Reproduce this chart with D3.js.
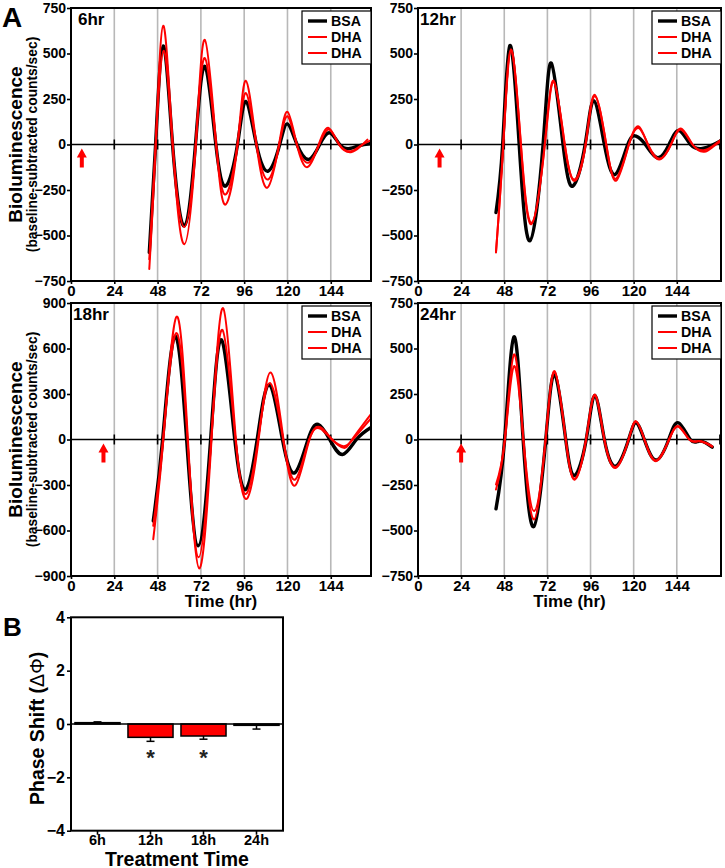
<!DOCTYPE html>
<html><head><meta charset="utf-8">
<script src="https://cdn.jsdelivr.net/npm/d3@7"></script>
<style>
body{margin:0;background:#fff}
svg{display:block}
text{font-family:"Liberation Sans",Arial,Helvetica,sans-serif;font-weight:bold;fill:#000}
</style>
</head><body><svg id="chart" width="725" height="868"></svg>
<script>
// ---------------- data ----------------
const panelTitles = ["6hr", "12hr", "18hr", "24hr"];
const treatmentTimes = [6, 12, 18, 24];
const timeTicks = [0, 24, 48, 72, 96, 120, 144];
const gridTimes = [24, 48, 72, 96, 120, 144];
const yTicks750 = [-750, -500, -250, 0, 250, 500, 750];
const yTicks900 = [-900, -600, -300, 0, 300, 600, 900];
const legendLabels = ["BSA", "DHA", "DHA"];

// [time (hr), bioluminescence]
const bsa6 = [[43.4,-593],[46.9,0],[51.1,542],[56.3,0],[62.8,-447],[69,0],[74.2,429],[80.3,0],[85.8,-228],[92.3,0],[96.9,237],[102.8,0],[109.3,-146],[115.7,0],[120,113],[125.3,0],[131.8,-82],[137.9,0],[143.4,64],[149,0],[154.5,-22],[160,-6],[165.6,4]];
const dha6a = [[43.4,-684],[47.0,0],[51.1,653],[56.4,0],[62.8,-548],[69.2,0],[74.2,575],[80.5,0],[85.8,-329],[92.3,0],[96.9,350],[102.8,0],[108.9,-237],[115.3,0],[120,179],[125.2,0],[131.1,-124],[137.3,0],[142.8,91],[148.5,0],[155.2,-42],[160.5,-10],[164.3,27]];
const dha6b = [[43.4,-630],[46.9,0],[51.4,515],[56.3,0],[62.8,-453],[69.1,0],[74.2,475],[80.4,0],[85.8,-274],[92.3,0],[96.9,283],[102.8,0],[109.3,-192],[115.5,0],[120,155],[125.2,0],[131.5,-100],[137.6,0],[143,82],[148.8,0],[155,-37],[160.3,-8],[165.5,20]];

const bsa12 = [[43.4,-374],[47.1,0],[51.1,544],[56.3,0],[62.2,-529],[69.6,0],[74.2,447],[80.7,0],[86.2,-228],[93.0,0],[97.8,241],[103.7,0],[109.8,-164],[116.7,0],[121.3,46],[126.5,0],[133.3,-73],[139.7,0],[145.3,77],[151.7,0],[158.2,-22],[163.5,-5],[168,18]];
const dha12a = [[43.4,-593],[47.4,0],[51.7,524],[57.2,0],[63.1,-438],[70.5,0],[75.5,350],[81.6,0],[87.1,-192],[93.2,0],[98.2,274],[104.7,0],[110.2,-188],[117.3,0],[122.8,100],[127.9,0],[134.2,-82],[140.7,0],[146.2,82],[152.7,0],[159.1,-31],[164,-8],[168,22]];
const dha12b = [[43.4,-590],[47.5,0],[51.8,518],[57.3,0],[63.2,-430],[70.6,0],[75.6,345],[81.7,0],[87.2,-200],[93.3,0],[98.3,265],[104.8,0],[110.3,-198],[117.4,0],[122.9,90],[128,0],[134.3,-78],[140.8,0],[146.3,88],[152.8,0],[159.3,-40],[164.2,-12],[168,14]];

const bsa18 = [[45.6,-537],[50.8,0],[57.6,679],[64.1,0],[70.5,-701],[77.4,0],[83.4,657],[90.8,0],[96.9,-329],[103.2,0],[109.8,361],[117.2,0],[124.1,-219],[131.4,0],[137,99],[143.4,0],[150.5,-99],[158.2,0],[166.5,81]];
const dha18a = [[45.6,-657],[51.2,0],[58.5,810],[64.8,0],[71.1,-850],[77.9,0],[84.4,865],[91.4,0],[97.7,-388],[104,0],[110.6,442],[117.8,0],[124.4,-302],[132.2,0],[138.8,77],[144.8,0],[151.2,-55],[155.8,0],[166.5,171]];
const dha18b = [[45.6,-569],[51,0],[58.2,700],[64.6,0],[70.7,-777],[77.7,0],[84,722],[91.2,0],[97.3,-357],[103.7,0],[110.2,372],[117.6,0],[124.4,-263],[132,0],[138.4,70],[144.6,0],[151,-44],[156.2,0],[166.5,142]];

const bsa24 = [[43.4,-381],[48.2,0],[53.4,564],[58.5,0],[64.4,-479],[71.1,0],[76.1,357],[82.2,0],[87.1,-198],[93.6,0],[98.4,242],[103.7,0],[110.2,-146],[117.2,0],[121.3,92],[125.9,0],[132.4,-113],[139.5,0],[144.9,92],[151.5,0],[156,-10],[160,-18],[163.7,-42]];
const dha24a = [[43.4,-275],[48.3,0],[53.4,467],[58.6,0],[64.6,-439],[71,0],[76.1,375],[82.2,0],[87.3,-220],[93.5,0],[98.4,247],[103.7,0],[110.2,-156],[117.2,0],[121.3,101],[126,0],[132.4,-119],[139.7,0],[145,73],[151,0],[156,-10],[160,-20],[163.7,-40]];
const dha24b = [[43.4,-247],[48.4,0],[53.4,403],[58.7,0],[64.6,-393],[71,0],[76.1,370],[82.2,0],[87.3,-215],[93.5,0],[98.4,244],[103.7,0],[110.2,-150],[117.2,0],[121.3,98],[126,0],[132.4,-115],[139.7,0],[145,70],[151,0],[156,-8],[160,-18],[163.7,-36]];

// Panel B
const phaseCategories = ["6h", "12h", "18h", "24h"];
const phaseShift = [0.05, -0.5, -0.45, -0.05];
const phaseErr = [0.03, 0.15, 0.12, 0.14];
const phaseSig = [false, true, true, false];
const phaseTicks = [-4, -2, 0, 2, 4];

// ---------------- drawing ----------------
const RED = "#ff0000";
const svg = d3.select("#chart");
svg.append("rect").attr("width", 725).attr("height", 868).attr("fill", "#fff");

const panels = [
  {title: panelTitles[0], treat: treatmentTimes[0], left: 71, right: 371, top: 8, bottom: 281, xMax: 166.3, yMax: 750, yTicks: yTicks750, series: [bsa6, dha6a, dha6b], xLabel: false},
  {title: panelTitles[1], treat: treatmentTimes[1], left: 418, right: 721, top: 8, bottom: 281, xMax: 168.6, yMax: 750, yTicks: yTicks750, series: [bsa12, dha12a, dha12b], xLabel: false},
  {title: panelTitles[2], treat: treatmentTimes[2], left: 71, right: 371, top: 303, bottom: 576, xMax: 166.3, yMax: 900, yTicks: yTicks900, series: [bsa18, dha18a, dha18b], xLabel: true},
  {title: panelTitles[3], treat: treatmentTimes[3], left: 418, right: 721, top: 303, bottom: 576, xMax: 168.6, yMax: 750, yTicks: yTicks750, series: [bsa24, dha24a, dha24b], xLabel: true}
];

panels.forEach((p, i) => {
  const x = d3.scaleLinear().domain([0, p.xMax]).range([p.left, p.right]);
  const y = d3.scaleLinear().domain([-p.yMax, p.yMax]).range([p.bottom, p.top]);
  const g = svg.append("g");
  const clipId = "clip" + i;
  svg.append("clipPath").attr("id", clipId).append("rect")
    .attr("x", p.left).attr("y", p.top).attr("width", p.right - p.left).attr("height", p.bottom - p.top);

  // grid lines
  g.selectAll(".grid").data(gridTimes).join("line")
    .attr("x1", d => x(d)).attr("x2", d => x(d))
    .attr("y1", p.top).attr("y2", p.bottom)
    .attr("stroke", "#b8b8b8").attr("stroke-width", 1.6);

  // zero line with ticks
  g.append("line").attr("x1", p.left).attr("x2", p.right).attr("y1", y(0)).attr("y2", y(0))
    .attr("stroke", "#000").attr("stroke-width", 1.6);
  g.selectAll(".zt").data(gridTimes.concat(p.xMax >= 168 ? [168] : [])).join("line")
    .attr("x1", d => x(d)).attr("x2", d => x(d))
    .attr("y1", y(0) - 5).attr("y2", y(0) + 5)
    .attr("stroke", "#000").attr("stroke-width", 1.6);

  // treatment arrow
  const ax = x(p.treat), ay = y(0);
  g.append("path")
    .attr("d", `M${ax},${ay+4} L${ax+5},${ay+13} L${ax+2},${ay+13} L${ax+2},${ay+23} L${ax-2},${ay+23} L${ax-2},${ay+13} L${ax-5},${ay+13} Z`)
    .attr("fill", RED);

  // curves
  const line = d3.line().x(d => x(d[0])).y(d => y(d[1])).curve(d3.curveNatural);
  const cg = g.append("g").attr("clip-path", `url(#${clipId})`);
  p.series.forEach((s, k) => {
    cg.append("path").attr("d", line(s)).attr("fill", "none")
      .attr("stroke", k === 0 ? "#000" : RED)
      .attr("stroke-width", k === 0 ? 3.4 : 2)
      .attr("stroke-linejoin", "round").attr("stroke-linecap", "round");
  });

  // frame
  g.append("rect").attr("x", p.left).attr("y", p.top).attr("width", p.right - p.left).attr("height", p.bottom - p.top)
    .attr("fill", "none").attr("stroke", "#000").attr("stroke-width", 2);

  // axes
  const yAx = g.append("g").attr("transform", `translate(${p.left},0)`)
    .call(d3.axisLeft(y).tickValues(p.yTicks).tickSize(4).tickPadding(1).tickFormat(d3.format("d")));
  yAx.select(".domain").remove();
  yAx.selectAll("line").attr("stroke-width", 1.6);
  yAx.selectAll("text").attr("font-size", 14).attr("font-family", null);

  const xAx = g.append("g").attr("transform", `translate(0,${p.bottom})`)
    .call(d3.axisBottom(x).tickValues(timeTicks).tickSize(3).tickPadding(1));
  xAx.select(".domain").remove();
  xAx.selectAll("line").attr("stroke-width", 1.6);
  xAx.selectAll("text").attr("font-size", 15).attr("font-family", null);

  // title
  g.append("text").attr("x", p.left + (p.title.length === 3 ? 7 : 2)).attr("y", p.top + 17)
    .attr("font-size", 17).text(p.title);

  // legend
  const lw = 69, lx = p.right - lw, ly = p.top + 3;
  g.append("rect").attr("x", lx).attr("y", ly).attr("width", lw).attr("height", 53)
    .attr("fill", "#fff").attr("stroke", "#000").attr("stroke-width", 1.2);
  legendLabels.forEach((lab, k) => {
    const cy = ly + 10 + k * 16;
    g.append("line").attr("x1", lx + 6).attr("x2", lx + 25).attr("y1", cy).attr("y2", cy)
      .attr("stroke", k === 0 ? "#000" : RED).attr("stroke-width", k === 0 ? 3.4 : 2);
    g.append("text").attr("x", lx + 29).attr("y", cy + 5.2).attr("font-size", 14.2).text(lab);
  });

  // y label on left panels
  if (p.left < 100) {
    const cy = (p.top + p.bottom) / 2;
    g.append("text").attr("transform", `translate(22,${cy}) rotate(-90)`)
      .attr("text-anchor", "middle").attr("font-size", 19).text("Bioluminescence");
    g.append("text").attr("transform", `translate(37,${cy}) rotate(-90)`)
      .attr("text-anchor", "middle").attr("font-size", 13.8).text("(baseline-subtracted counts/sec)");
  }
  if (p.xLabel) {
    g.append("text").attr("x", (p.left + p.right) / 2).attr("y", 607)
      .attr("text-anchor", "middle").attr("font-size", 17).text("Time (hr)");
  }
});

// panel letters
svg.append("text").attr("x", 2).attr("y", 27).attr("font-size", 28).text("A");
svg.append("text").attr("x", 3).attr("y", 636).attr("font-size", 26).text("B");

// ---------------- Panel B ----------------
const bL = 71, bR = 283, bT = 617.3, bB = 830.7;
const xb = d3.scaleBand().domain(phaseCategories).range([bL, bR]).paddingInner(0.15).paddingOuter(0.075);
const yb = d3.scaleLinear().domain([-4, 4]).range([bB, bT]);
const gb = svg.append("g");

gb.selectAll(".bar").data(phaseShift).join("rect")
  .attr("x", (d, i) => xb(phaseCategories[i]))
  .attr("width", xb.bandwidth())
  .attr("y", d => yb(Math.max(0, d)))
  .attr("height", d => Math.abs(yb(d) - yb(0)))
  .attr("fill", RED).attr("stroke", "#000").attr("stroke-width", 1.5);

// error bars
phaseShift.forEach((d, i) => {
  const cx = xb(phaseCategories[i]) + xb.bandwidth() / 2;
  const end = d >= 0 ? d + phaseErr[i] : d - phaseErr[i];
  gb.append("line").attr("x1", cx).attr("x2", cx).attr("y1", yb(d)).attr("y2", yb(end))
    .attr("stroke", "#000").attr("stroke-width", 1.5);
  gb.append("line").attr("x1", cx - 4).attr("x2", cx + 4).attr("y1", yb(end)).attr("y2", yb(end))
    .attr("stroke", "#000").attr("stroke-width", 1.5);
  if (phaseSig[i]) {
    gb.append("text").attr("x", cx).attr("y", 765).attr("text-anchor", "middle")
      .attr("font-size", 22).style("fill", "#222").text("*");
  }
});

gb.append("line").attr("x1", bL).attr("x2", bR).attr("y1", yb(0)).attr("y2", yb(0))
  .attr("stroke", "#000").attr("stroke-width", 1.6);
gb.append("rect").attr("x", bL).attr("y", bT).attr("width", bR - bL).attr("height", bB - bT)
  .attr("fill", "none").attr("stroke", "#000").attr("stroke-width", 2);

const ybAx = gb.append("g").attr("transform", `translate(${bL},0)`)
  .call(d3.axisLeft(yb).tickValues(phaseTicks).tickSize(4).tickPadding(2));
ybAx.select(".domain").remove();
ybAx.selectAll("line").attr("stroke-width", 1.6);
ybAx.selectAll("text").attr("font-size", 16).attr("font-family", null);

const xbAx = gb.append("g").attr("transform", `translate(0,${bB})`)
  .call(d3.axisBottom(xb).tickSize(4).tickPadding(0));
xbAx.select(".domain").remove();
xbAx.selectAll("line").attr("stroke-width", 1.6);
xbAx.selectAll("text").attr("font-size", 14.5).attr("font-family", null);

const ph = gb.append("text").attr("transform", `translate(44,805) rotate(-90)`).attr("font-size", 19.5);
ph.append("tspan").text("Phase Shift (");
ph.append("tspan").attr("font-weight", "normal").text("ΔΦ");
ph.append("tspan").text(")");

gb.append("text").attr("x", (bL + bR) / 2).attr("y", 865.5).attr("text-anchor", "middle")
  .attr("font-size", 19.5).text("Treatment Time");
</script>
</body></html>
